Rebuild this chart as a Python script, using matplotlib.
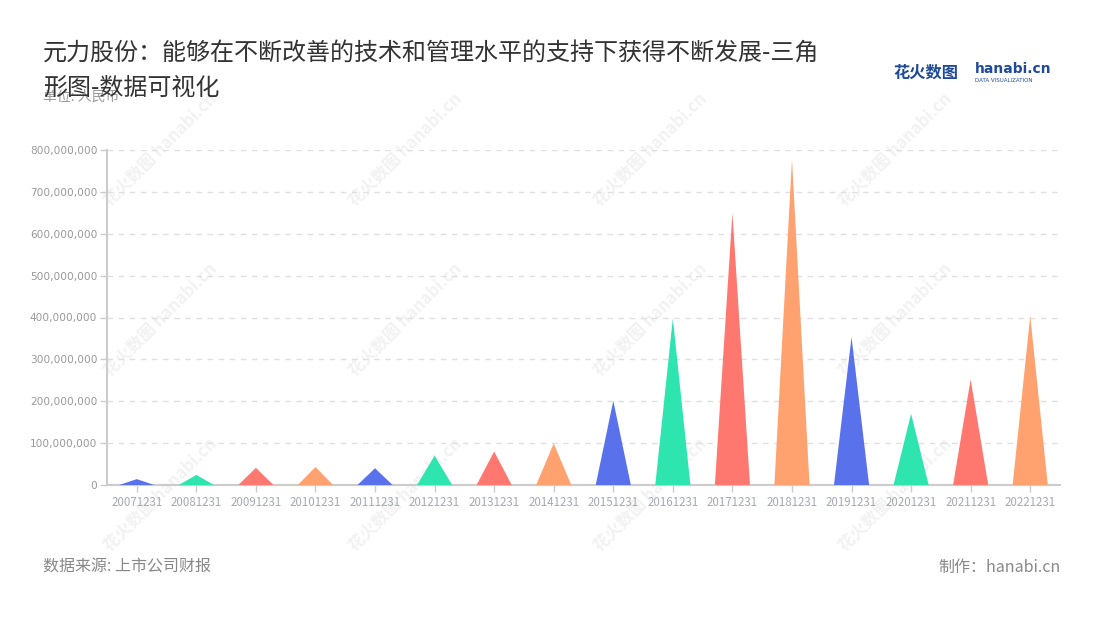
import matplotlib
matplotlib.use("Agg")
import matplotlib.pyplot as plt
from matplotlib.ticker import FuncFormatter

plt.rcParams['font.family'] = ['Noto Sans CJK SC', 'DejaVu Sans']

# 数据
dates = ["20071231", "20081231", "20091231", "20101231", "20111231", "20121231",
         "20131231", "20141231", "20151231", "20161231", "20171231", "20181231",
         "20191231", "20201231", "20211231", "20221231"]
values = [14e6, 24e6, 41e6, 43e6, 40e6, 70e6, 80e6, 99e6,
          201e6, 398e6, 649e6, 778e6, 353e6, 170e6, 252e6, 404e6]
palette = ["#5a71ec", "#2ee5b0", "#ff7870", "#ffa26f"]

fig = plt.figure(figsize=(11, 6.2), dpi=100)
ax = fig.add_axes([107 / 1100, 1 - 485 / 620, (1060 - 107) / 1100, (485 - 150) / 620])
ax.set_zorder(2)
ax.patch.set_alpha(0)

w = 0.59
for i, v in enumerate(values):
    ax.fill([i - w / 2, i, i + w / 2], [0, v, 0], color=palette[i % 4], lw=0, zorder=3)

ax.set_xlim(-0.5, len(dates) - 0.5)
ax.set_ylim(0, 800e6)
ax.set_yticks([k * 100e6 for k in range(9)])
ax.yaxis.set_major_formatter(FuncFormatter(lambda v, p: f"{int(v):,}"))
ax.set_xticks(range(len(dates)))
ax.set_xticklabels(dates)

ax.grid(axis='y', color='#e0e0e0', linestyle=(0, (4, 4)), lw=1, zorder=0)
for s in ['top', 'right']:
    ax.spines[s].set_visible(False)
for s in ['left', 'bottom']:
    ax.spines[s].set_color('#cccccc')
    ax.spines[s].set_linewidth(1.5)
ax.tick_params(axis='y', colors='#cccccc', labelcolor='#999999', length=5, width=1, pad=2)
ax.tick_params(axis='x', colors='#cccccc', labelcolor='#a6a9b4', labelsize=8.3, length=5, width=1,
               pad=3)
for lab in ax.get_yticklabels():
    lab.set_family('DejaVu Sans')
    lab.set_fontsize(7.6)

# 水印
for wx in [160, 405, 650, 895]:
    for wy in [150, 320, 495]:
        fig.text(wx / 1100, 1 - wy / 620, "花火数图 hanabi.cn", rotation=45, fontsize=12,
                 color='#f2f2f2', ha='center', va='center', fontweight='bold', zorder=0)

# 标题
fig.text(43 / 1100, 1 - 97 / 620, "单位: 人民币", fontsize=10, color='#999999', va='center')
fig.text(43 / 1100, 1 - 40 / 620,
         "元力股份：能够在不断改善的技术和管理水平的支持下获得不断发展-三角\n形图-数据可视化",
         fontsize=17.3, color='#333333', va='top', linespacing=1.45, zorder=3)

# logo
fig.text(893 / 1100, 1 - 73 / 620, "花火数图", fontsize=11.7, color='#1f4a9a', fontweight='bold',
         va='center')
fig.text(975 / 1100, 1 - 69 / 620, "hanabi.cn", fontsize=10, color='#1f4a9a',
         fontweight='bold', va='center', family='DejaVu Sans')
fig.text(975 / 1100, 1 - 80 / 620, "DATA VISUALIZATION", fontsize=4, color='#1f4a9a',
         va='center', family='DejaVu Sans')

# 页脚
fig.text(43 / 1100, 1 - 567 / 620, "数据来源: 上市公司财报", fontsize=11.5, color='#888888',
         va='center')
fig.text(1061 / 1100, 1 - 567 / 620, "制作：hanabi.cn", fontsize=11.5, color='#888888',
         va='center', ha='right')

fig.savefig("out.png", dpi=100)
